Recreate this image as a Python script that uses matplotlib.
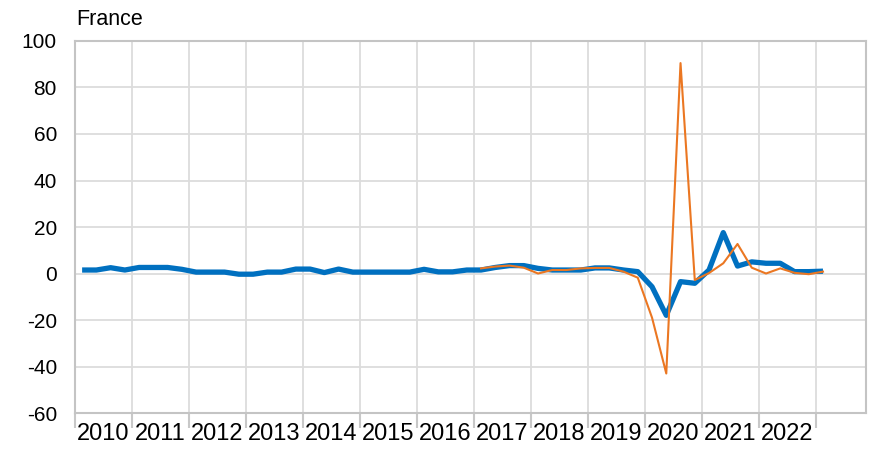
import numpy as np
from matplotlib import pyplot as plt

plt.rcParams['font.family'] = ['Liberation Sans', 'DejaVu Sans']
plt.rcParams['axes.unicode_minus'] = False

# quarterly, 2010Q1 .. 2023Q1
blue = [1.5, 1.5, 2.5, 1.5, 2.6, 2.6, 2.6, 1.8, 0.6, 0.6, 0.6, -0.3,
        -0.3, 0.6, 0.6, 1.9, 1.9, 0.4, 1.9, 0.6, 0.6, 0.6, 0.6, 0.6,
        1.8, 0.7, 0.7, 1.5, 1.5, 2.6, 3.4, 3.4, 2.2, 1.5, 1.5, 1.5,
        2.4, 2.4, 1.5, 0.8, -5.7, -18.0, -3.5, -4.2, 1.5, 17.6, 3.2, 5.0,
        4.4, 4.4, 0.8, 0.8, 1.0]
# starts 2017Q1
orange = [2.2, 3.0, 3.4, 2.5, 0.0, 1.5, 1.5, 2.2, 2.4, 2.4, 0.8, -1.8,
          -19.0, -43.0, 90.5, -2.8, 0.2, 4.4, 12.7, 2.5, 0.0, 2.2, 0.3,
          -0.3, 0.8]
years = list(range(2010, 2023))

x_blue = 2010.125 + 0.25 * np.arange(len(blue))
x_orange = 2017.125 + 0.25 * np.arange(len(orange))

fig = plt.figure(figsize=(8.71, 4.5), dpi=100)
ax = fig.add_axes([0.0861, 0.0822, 0.9082, 0.8267])

ax.plot(x_blue, blue, color='#0070C0', lw=3.8, zorder=3, solid_capstyle='butt')
ax.plot(x_orange, orange, color='#EB7722', lw=1.5, zorder=4)

ax.set_xlim(2010, 2023.88)
ax.set_ylim(-60, 100)
ax.set_yticks(np.arange(-60, 101, 20))

ax.set_xticks(np.arange(2010, 2024))
ax.set_xticklabels([])
ax.set_xticks(np.array(years) + 0.5, minor=True)
ax.set_xticklabels([str(y) for y in years], minor=True)
ax.tick_params(axis='x', which='major', length=11, color='#c8c8c8', width=1.5)
ax.tick_params(axis='x', which='minor', length=0, pad=7, labelsize=17)
ax.tick_params(axis='y', length=0, pad=13, labelsize=15)

ax.grid(True, color='#dcdcdc', lw=1.3)
ax.set_axisbelow(True)
for s in ax.spines.values():
    s.set_color('#c4c4c4')
    s.set_linewidth(1.5)

fig.text(0.087, 0.944, 'France', fontsize=15.5, va='baseline', ha='left')

fig.savefig('out.png', dpi=100)
